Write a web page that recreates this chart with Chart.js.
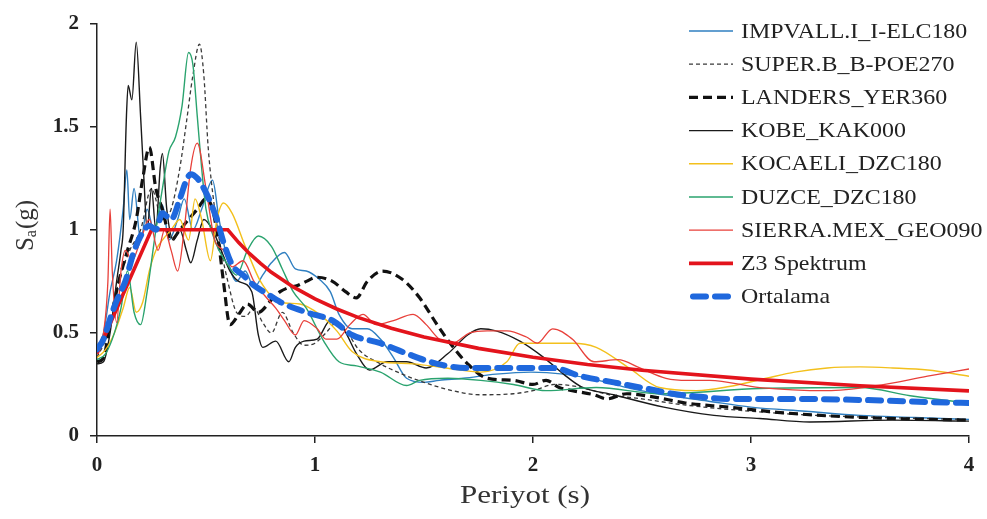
<!DOCTYPE html>
<html>
<head>
<meta charset="utf-8">
<script src="https://cdn.jsdelivr.net/npm/chart.js@4.4.1/dist/chart.umd.min.js"></script>
<style>
html, body { margin: 0; padding: 0; background: #fff; }
#wrap { width: 987px; height: 519px; }
</style>
</head>
<body>
<div id="wrap"><canvas id="spectra" width="987" height="519"></canvas></div>
<script>
// periods (s) and spectral accelerations (g)
var impvallT  = [0, 0.03, 0.06, 0.09, 0.12, 0.137, 0.15, 0.17, 0.2, 0.23, 0.26, 0.3, 0.33, 0.37, 0.4, 0.44, 0.48, 0.53, 0.56, 0.6, 0.64, 0.68, 0.72, 0.76, 0.8, 0.86, 0.91, 0.96, 1.02, 1.07, 1.11, 1.17, 1.24, 1.3, 1.36, 1.42, 1.5, 1.57, 1.68, 1.83, 1.99, 2.14, 2.3, 2.45, 2.6, 2.8, 3.0, 3.25, 3.5, 3.75, 4.0];
var impvallSa = [0.42, 0.5, 0.7, 0.85, 1.1, 1.29, 1.05, 1.2, 0.95, 1.1, 1.0, 1.12, 0.95, 1.05, 1.15, 1.0, 1.1, 1.24, 1.05, 0.85, 0.75, 0.8, 0.72, 0.78, 0.84, 0.89, 0.81, 0.8, 0.76, 0.7, 0.59, 0.52, 0.52, 0.47, 0.38, 0.28, 0.26, 0.27, 0.28, 0.3, 0.31, 0.3, 0.27, 0.23, 0.2, 0.17, 0.14, 0.12, 0.1, 0.09, 0.08];

var superT  = [0, 0.05, 0.1, 0.15, 0.2, 0.25, 0.3, 0.34, 0.38, 0.41, 0.44, 0.47, 0.49, 0.51, 0.54, 0.57, 0.6, 0.64, 0.68, 0.72, 0.76, 0.8, 0.85, 0.9, 0.95, 1.0, 1.05, 1.1, 1.15, 1.2, 1.3, 1.4, 1.5, 1.63, 1.76, 1.91, 2.0, 2.1, 2.2, 2.35, 2.5, 2.7, 3.0, 3.3, 3.6, 4.0];
var superSa = [0.38, 0.5, 0.75, 0.9, 1.0, 1.2, 1.05, 1.1, 1.3, 1.52, 1.75, 1.9, 1.75, 1.4, 1.1, 0.9, 0.75, 0.6, 0.58, 0.62, 0.55, 0.5, 0.6, 0.5, 0.44, 0.45, 0.5, 0.55, 0.5, 0.42, 0.35, 0.3, 0.26, 0.22, 0.2, 0.205, 0.22, 0.25, 0.24, 0.2, 0.18, 0.15, 0.12, 0.1, 0.09, 0.08];

var landersT  = [0, 0.03, 0.06, 0.1, 0.14, 0.18, 0.21, 0.24, 0.27, 0.3, 0.34, 0.38, 0.42, 0.46, 0.5, 0.53, 0.56, 0.58, 0.61, 0.65, 0.69, 0.74, 0.8, 0.84, 0.88, 0.92, 0.96, 1.01, 1.08, 1.14, 1.19, 1.24, 1.31, 1.4, 1.48, 1.56, 1.62, 1.7, 1.79, 1.91, 2.0, 2.06, 2.12, 2.18, 2.28, 2.34, 2.43, 2.55, 2.7, 2.9, 3.12, 3.5, 4.0];
var landersSa = [0.36, 0.38, 0.55, 0.75, 0.9, 1.05, 1.25, 1.4, 1.2, 1.1, 0.95, 1.0, 1.05, 1.1, 1.15, 1.1, 0.92, 0.75, 0.54, 0.59, 0.64, 0.6, 0.66, 0.7, 0.72, 0.73, 0.75, 0.77, 0.75, 0.7, 0.67, 0.75, 0.8, 0.76, 0.67, 0.54, 0.45, 0.35, 0.28, 0.27, 0.25, 0.27, 0.235, 0.22, 0.2, 0.18, 0.205, 0.19, 0.16, 0.14, 0.115, 0.09, 0.077];

var kobeT  = [0, 0.03, 0.06, 0.09, 0.11, 0.12, 0.135, 0.143, 0.16, 0.18, 0.2, 0.215, 0.23, 0.25, 0.27, 0.29, 0.3, 0.32, 0.35, 0.38, 0.41, 0.43, 0.46, 0.49, 0.53, 0.57, 0.61, 0.65, 0.71, 0.74, 0.76, 0.82, 0.88, 0.91, 0.95, 1.01, 1.07, 1.13, 1.19, 1.25, 1.33, 1.42, 1.51, 1.61, 1.7, 1.76, 1.83, 1.94, 2.05, 2.14, 2.22, 2.37, 2.6, 2.83, 3.04, 3.27, 3.65, 4.0];
var kobeSa = [0.35, 0.36, 0.5, 0.75, 0.9, 1.0, 1.55, 1.7, 1.63, 1.91, 1.55, 1.25, 1.0, 1.2, 1.0, 1.3, 1.37, 1.1, 0.95, 1.0, 0.9, 0.84, 0.95, 1.05, 1.0, 0.9, 0.8, 0.75, 0.7, 0.49, 0.43, 0.46, 0.36, 0.43, 0.46, 0.47, 0.56, 0.52, 0.4, 0.32, 0.36, 0.36, 0.33, 0.4, 0.49, 0.52, 0.51, 0.46, 0.38, 0.3, 0.24, 0.2, 0.14, 0.1, 0.085, 0.068, 0.077, 0.072];

var kocaeliT  = [0, 0.04, 0.08, 0.12, 0.15, 0.18, 0.21, 0.24, 0.27, 0.3, 0.34, 0.38, 0.42, 0.45, 0.48, 0.52, 0.55, 0.58, 0.62, 0.68, 0.75, 0.84, 0.93, 1.02, 1.1, 1.17, 1.3, 1.45, 1.6, 1.76, 1.88, 1.94, 2.06, 2.18, 2.29, 2.44, 2.58, 2.75, 2.9, 3.07, 3.2, 3.35, 3.5, 3.65, 3.81, 4.0];
var kocaeliSa = [0.38, 0.42, 0.5, 0.62, 0.72, 0.6, 0.65, 0.8, 0.9, 0.95, 1.0, 1.05, 0.95, 1.15, 1.05, 0.85, 1.05, 1.13, 1.08, 0.92, 0.75, 0.65, 0.64, 0.59, 0.51, 0.41, 0.36, 0.35, 0.33, 0.31, 0.36, 0.45, 0.45, 0.45, 0.43, 0.33, 0.235, 0.22, 0.24, 0.28, 0.31, 0.33, 0.335, 0.33, 0.32, 0.29];

var duzceT  = [0, 0.04, 0.08, 0.11, 0.14, 0.17, 0.2, 0.23, 0.27, 0.3, 0.33, 0.36, 0.39, 0.42, 0.44, 0.46, 0.48, 0.5, 0.53, 0.56, 0.6, 0.64, 0.69, 0.74, 0.8, 0.85, 0.9, 0.96, 1.04, 1.11, 1.19, 1.3, 1.42, 1.48, 1.61, 1.76, 1.91, 2.06, 2.29, 2.58, 3.04, 3.5, 3.73, 4.0];
var duzceSa = [0.37, 0.4, 0.5, 0.62, 0.8, 0.6, 0.54, 0.7, 1.0, 1.2, 1.38, 1.45, 1.6, 1.86, 1.8, 1.55, 1.3, 1.1, 0.98, 0.9, 0.83, 0.78, 0.9, 0.97, 0.92, 0.81, 0.7, 0.62, 0.46, 0.36, 0.34, 0.31, 0.245, 0.27, 0.28, 0.27, 0.25, 0.22, 0.235, 0.205, 0.23, 0.235, 0.195, 0.16];

var sierraT  = [0, 0.03, 0.05, 0.06, 0.07, 0.09, 0.11, 0.13, 0.16, 0.2, 0.24, 0.28, 0.31, 0.34, 0.37, 0.4, 0.43, 0.46, 0.5, 0.54, 0.58, 0.62, 0.67, 0.72, 0.77, 0.82, 0.86, 0.91, 0.95, 1.01, 1.05, 1.1, 1.16, 1.22, 1.28, 1.36, 1.45, 1.51, 1.57, 1.63, 1.71, 1.79, 1.88, 1.97, 2.02, 2.09, 2.18, 2.28, 2.39, 2.49, 2.61, 2.71, 2.81, 3.04, 3.35, 3.58, 3.81, 4.0];
var sierraSa = [0.4, 0.5, 0.75, 1.1, 0.8, 0.55, 0.8, 0.9, 0.85, 0.95, 1.05, 0.9, 1.0, 0.9, 0.8, 1.0, 1.3, 1.42, 1.2, 0.95, 0.9, 0.82, 0.85, 0.75, 0.68, 0.62, 0.56, 0.49, 0.56, 0.52, 0.47, 0.47, 0.54, 0.59, 0.54, 0.56, 0.59, 0.54, 0.47, 0.45, 0.5, 0.51, 0.51, 0.48, 0.45, 0.52, 0.47, 0.36, 0.37, 0.33, 0.28, 0.27, 0.27, 0.235, 0.22, 0.245, 0.29, 0.325];

var z3T  = [0, 0.25, 0.6, 0.65, 0.7, 0.75, 0.8, 0.9, 1.0, 1.1, 1.2, 1.35, 1.5, 1.75, 2.0, 2.25, 2.5, 3.0, 3.5, 4.0];
var z3Sa = [0.4, 1.0, 1.0, 0.938, 0.884, 0.837, 0.794, 0.723, 0.665, 0.616, 0.574, 0.523, 0.48, 0.425, 0.382, 0.347, 0.319, 0.276, 0.244, 0.219];

var meanT  = [0, 0.03, 0.07, 0.1, 0.13, 0.165, 0.2, 0.24, 0.27, 0.3, 0.34, 0.38, 0.41, 0.43, 0.46, 0.5, 0.55, 0.58, 0.62, 0.67, 0.72, 0.78, 0.84, 0.96, 1.08, 1.17, 1.3, 1.42, 1.56, 1.7, 1.83, 2.0, 2.09, 2.22, 2.37, 2.52, 2.64, 2.77, 2.89, 3.19, 3.5, 3.81, 4.0];
var meanSa = [0.42, 0.47, 0.6, 0.68, 0.75, 0.88, 0.97, 1.02, 1.0, 1.08, 1.05, 1.15, 1.24, 1.27, 1.25, 1.18, 1.05, 0.94, 0.83, 0.78, 0.73, 0.69, 0.65, 0.6, 0.56, 0.49, 0.45, 0.4, 0.35, 0.33, 0.33, 0.33, 0.33, 0.29, 0.26, 0.23, 0.205, 0.19, 0.18, 0.18, 0.175, 0.165, 0.16];

var xTicks = [0, 1, 2, 3, 4];
var yTicks = [0, 0.5, 1, 1.5, 2];

var SERIF = '"Liberation Serif", "Times New Roman", serif';

function pts(t, sa) {
    return t.map((v, i) => ({x: v, y: sa[i]}));
}

// one entry per record, in legend order
var SERIES = [
    {label: 'IMPVALL.I_I-ELC180', t: impvallT, sa: impvallSa, color: '#2f7fc1', width: 1.4, dash: [], order: 8},
    {label: 'SUPER.B_B-POE270', t: superT, sa: superSa, color: '#3a3a3a', width: 1.3, dash: [4, 3], order: 7},
    {label: 'LANDERS_YER360', t: landersT, sa: landersSa, color: '#111111', width: 3.2, dash: [9, 5], order: 6},
    {label: 'KOBE_KAK000', t: kobeT, sa: kobeSa, color: '#1a1a1a', width: 1.4, dash: [], order: 5},
    {label: 'KOCAELI_DZC180', t: kocaeliT, sa: kocaeliSa, color: '#f3c01c', width: 1.4, dash: [], order: 4},
    {label: 'DUZCE_DZC180', t: duzceT, sa: duzceSa, color: '#2aa36e', width: 1.4, dash: [], order: 3},
    {label: 'SIERRA.MEX_GEO090', t: sierraT, sa: sierraSa, color: '#e8403a', width: 1.3, dash: [], order: 2},
    {label: 'Z3 Spektrum', t: z3T, sa: z3Sa, color: '#e3141c', width: 3.6, dash: [], order: 1, straight: true},
    {label: 'Ortalama', t: meanT, sa: meanSa, color: '#1f68dd', width: 6, dash: [13, 9], cap: 'round', order: 0}
];

var sideLegend = {
    id: 'sideLegend',
    afterDraw(chart) {
        var ctx = chart.ctx;
        ctx.save();
        SERIES.forEach((s, i) => {
            var y = 31 + i * 33.2;
            ctx.beginPath();
            ctx.strokeStyle = s.color;
            ctx.lineWidth = s.width;
            ctx.lineCap = s.cap || 'butt';
            ctx.setLineDash(s.dash);
            ctx.moveTo(s.cap ? 693 : 689, y);
            ctx.lineTo(733, y);
            ctx.stroke();
            ctx.setLineDash([]);
            ctx.save();
            ctx.translate(741, y);
            ctx.scale(1.14, 1);
            ctx.font = '21px ' + SERIF;
            ctx.fillStyle = '#222';
            ctx.textBaseline = 'middle';
            ctx.fillText(s.label, 0, 1);
            ctx.restore();
        });

        // axis titles
        ctx.fillStyle = '#333';
        ctx.save();
        ctx.translate(525, 496);
        ctx.scale(1.24, 1);
        ctx.font = '25px ' + SERIF;
        ctx.textAlign = 'center';
        ctx.textBaseline = 'middle';
        ctx.fillText('Periyot (s)', 0, 0);
        ctx.restore();

        ctx.save();
        ctx.translate(26, 226);
        ctx.rotate(-Math.PI / 2);
        ctx.textBaseline = 'middle';
        ctx.font = '25px ' + SERIF;
        var wS = ctx.measureText('S').width;
        ctx.font = '16px ' + SERIF;
        var wA = ctx.measureText('a').width;
        ctx.font = '25px ' + SERIF;
        var wG = ctx.measureText('(g)').width;
        var x0 = -(wS + wA + wG) / 2;
        ctx.fillText('S', x0, 0);
        ctx.font = '16px ' + SERIF;
        ctx.fillText('a', x0 + wS, 6);
        ctx.font = '25px ' + SERIF;
        ctx.fillText('(g)', x0 + wS + wA + 1, 0);
        ctx.restore();
        ctx.restore();
    }
};

new Chart(document.getElementById('spectra'), {
    type: 'line',
    data: {
        datasets: SERIES.map(s => ({
            label: s.label,
            data: pts(s.t, s.sa),
            borderColor: s.color,
            borderWidth: s.width,
            borderDash: s.dash,
            borderCapStyle: s.cap || 'butt',
            pointRadius: 0,
            tension: s.straight ? 0 : 0.3,
            cubicInterpolationMode: s.straight ? 'default' : 'monotone',
            fill: false,
            order: s.order
        }))
    },
    options: {
        responsive: false,
        animation: false,
        devicePixelRatio: 1,
        layout: {padding: {top: 19, right: 18, left: 0, bottom: 0}},
        plugins: {legend: {display: false}, tooltip: {enabled: false}},
        scales: {
            x: {
                type: 'linear',
                min: 0,
                max: 4,
                afterFit: s => { s.height = 83; },
                afterBuildTicks: s => { s.ticks = xTicks.map(v => ({value: v})); },
                ticks: {color: '#222', padding: 10, callback: v => String(v), font: {family: SERIF, size: 21, weight: 'bold'}},
                grid: {drawOnChartArea: false, color: '#222', lineWidth: 1.5, tickLength: 7},
                border: {color: '#222', width: 1.5}
            },
            y: {
                min: 0,
                max: 2,
                afterFit: s => { s.width = 97; },
                afterBuildTicks: s => { s.ticks = yTicks.map(v => ({value: v})); },
                ticks: {color: '#222', padding: 11, callback: v => String(v), font: {family: SERIF, size: 21, weight: 'bold'}},
                grid: {drawOnChartArea: false, color: '#222', lineWidth: 1.5, tickLength: 7},
                border: {color: '#222', width: 1.5}
            }
        }
    },
    plugins: [sideLegend]
});
</script>
</body>
</html>
